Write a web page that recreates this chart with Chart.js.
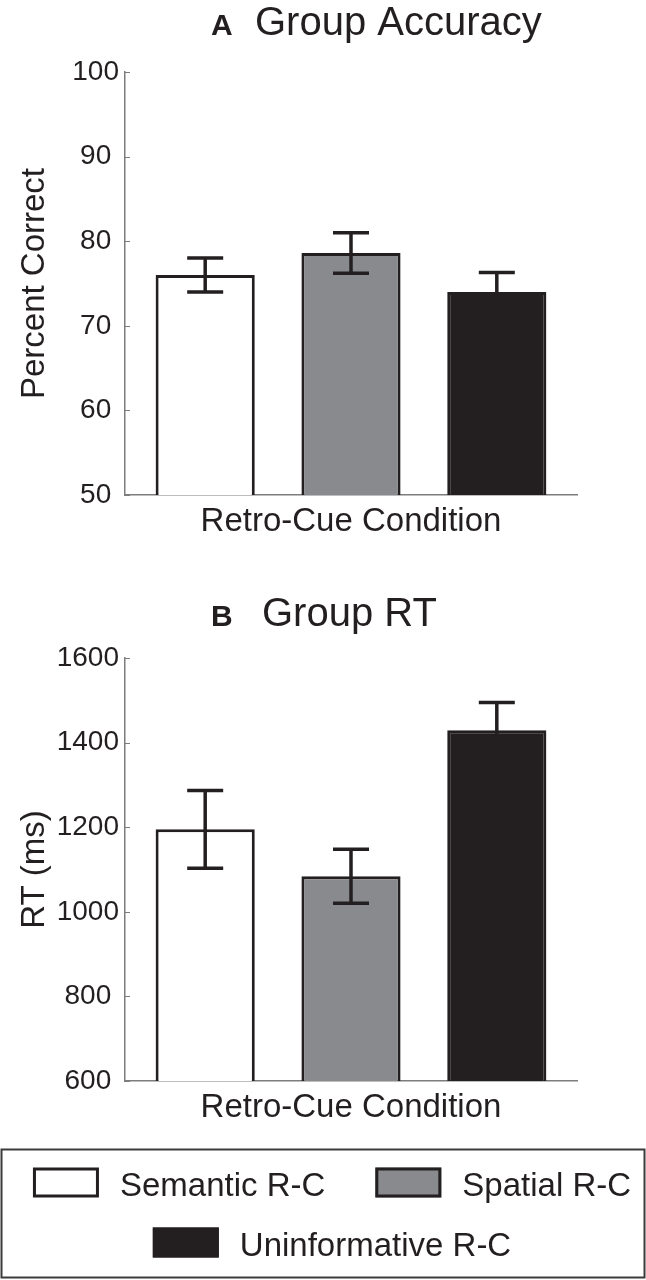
<!DOCTYPE html>
<html>
<head>
<meta charset="utf-8">
<script src="https://cdn.jsdelivr.net/npm/chart.js@4.4.1/dist/chart.umd.min.js"></script>
<style>
  body { margin: 0; background: #fff; }
  canvas { display: block; }
</style>
</head>
<body>
<canvas id="accChart" width="646" height="560"></canvas>
<canvas id="rtChart" width="646" height="720"></canvas>
<script>
// data
const categories = ["Semantic R-C", "Spatial R-C", "Uninformative R-C"];
const barColors = ["#ffffff", "#898a8d", "#231f20"];
const accuracy = [76.0, 78.6, 74.0];
const accuracyErr = [2.0, 2.4, 2.3];
const rt = [1195, 1084, 1429];
const rtErr = [92, 64, 66];
const accTicks = [50, 60, 70, 80, 90, 100];
const rtTicks = [600, 800, 1000, 1200, 1400, 1600];

const FONT = '"Liberation Sans", Arial, sans-serif';
const INK = "#231f20";
const AXIS = "#7d7d7d";

// "A  Group Accuracy" style heading
const panelTitle = {
    id: "panelTitle",
    afterDraw(chart, args, opts) {
        const ctx = chart.ctx;
        ctx.save();
        ctx.fillStyle = INK;
        ctx.textAlign = "left";
        ctx.textBaseline = "alphabetic";
        ctx.font = "bold 30px " + FONT;
        ctx.fillText(opts.letter, 211, opts.y);
        ctx.font = "40px " + FONT;
        ctx.fillText(opts.text, opts.textX, opts.y);
        ctx.restore();
    }
};

// short tick marks pointing into the plot
const innerTicks = {
    id: "innerTicks",
    afterDraw(chart) {
        const ctx = chart.ctx;
        const y = chart.scales.y;
        ctx.save();
        ctx.strokeStyle = AXIS;
        ctx.lineWidth = 1;
        ctx.beginPath();
        y.ticks.forEach(t => {
            const py = Math.round(y.getPixelForValue(t.value)) + 0.5;
            ctx.moveTo(y.right, py);
            ctx.lineTo(y.right + 5, py);
        });
        ctx.stroke();
        ctx.restore();
    }
};

const errorBars = {
    id: "errorBars",
    afterDatasetsDraw(chart, args, opts) {
        const ctx = chart.ctx;
        const y = chart.scales.y;
        const meta = chart.getDatasetMeta(0);
        const pts = chart.data.datasets[0].data;
        ctx.save();
        ctx.strokeStyle = INK;
        ctx.lineWidth = 3.5;
        meta.data.forEach((bar, i) => {
            const v = pts[i].y, e = opts.errors[i];
            const top = y.getPixelForValue(v + e);
            const bot = y.getPixelForValue(v - e);
            ctx.beginPath();
            ctx.moveTo(bar.x, top);
            ctx.lineTo(bar.x, bot);
            ctx.moveTo(bar.x - 18, top);
            ctx.lineTo(bar.x + 18, top);
            ctx.moveTo(bar.x - 18, bot);
            ctx.lineTo(bar.x + 18, bot);
            ctx.stroke();
        });
        ctx.restore();
    }
};

// boxed legend under panel B
const boxLegend = {
    id: "boxLegend",
    afterDraw(chart, args, opts) {
        const ctx = chart.ctx;
        ctx.save();
        ctx.strokeStyle = "#3b3b3b";
        ctx.lineWidth = 2;
        ctx.strokeRect(1.5, opts.top, chart.width - 3, 128);
        ctx.font = "33px " + FONT;
        ctx.textAlign = "left";
        ctx.textBaseline = "alphabetic";
        const rows = [[0, 1], [2]];
        rows.forEach((row, r) => {
            const widths = row.map(i => 66 + 21 + ctx.measureText(categories[i]).width);
            const total = widths.reduce((a, b) => a + b, 0) + 50 * (row.length - 1);
            let x = opts.centerX - total / 2;
            const sy = opts.top + 18 + r * 60;
            row.forEach((i, k) => {
                ctx.fillStyle = barColors[i];
                ctx.fillRect(x, sy, 66, 30);
                ctx.strokeStyle = INK;
                ctx.lineWidth = 3;
                ctx.strokeRect(x + 1.5, sy + 1.5, 63, 27);
                ctx.fillStyle = INK;
                ctx.fillText(categories[i], x + 87, sy + 28);
                x += widths[k] + 50;
            });
        });
        ctx.restore();
    }
};

function makeChart(id, values, errors, tickValues, yTitle, title, pad, extra) {
    return new Chart(id, {
        type: "bar",
        data: {
            datasets: [{
                data: values.map((v, i) => ({x: i + 1, y: v})),
                backgroundColor: barColors,
                borderColor: INK,
                borderWidth: 3,
                borderSkipped: false,
                categoryPercentage: 1,
                barPercentage: 0.68
            }]
        },
        options: {
            responsive: false,
            animation: false,
            layout: {padding: {top: pad.top, right: 69, bottom: pad.bottom, left: 0}},
            plugins: {
                legend: {display: false},
                tooltip: {enabled: false},
                panelTitle: title,
                errorBars: {errors: errors},
                boxLegend: {top: 589.5, centerX: 332}
            },
            scales: {
                x: {
                    type: "linear",
                    offset: false,
                    min: 0.45,
                    max: 3.55,
                    grid: {display: false, offset: false, drawTicks: false},
                    ticks: {display: false, stepSize: 1, includeBounds: false},
                    border: {color: AXIS, width: 1.5},
                    title: {
                        display: true,
                        text: "Retro-Cue Condition",
                        color: INK,
                        font: {family: FONT, size: 33},
                        padding: 0
                    },
                    afterFit: s => { s.height = 47; }
                },
                y: {
                    min: tickValues[0],
                    max: tickValues[tickValues.length - 1],
                    afterBuildTicks: s => { s.ticks = tickValues.map(v => ({value: v})); },
                    grid: {display: false, drawTicks: false},
                    border: {color: AXIS, width: 1.5},
                    ticks: {
                        color: INK,
                        font: {family: FONT, size: 28},
                        padding: 6,
                        crossAlign: "center",
                        callback: v => String(v)
                    },
                    title: {
                        display: true,
                        text: yTitle,
                        color: INK,
                        font: {family: FONT, size: 33},
                        padding: {top: 15, bottom: 0}
                    },
                    afterFit: s => { s.width = 125; }
                }
            }
        },
        plugins: [panelTitle, innerTicks, errorBars].concat(extra)
    });
}

makeChart("accChart", accuracy, accuracyErr, accTicks, "Percent Correct",
    {letter: "A", text: "Group Accuracy", textX: 255, y: 35},
    {top: 72, bottom: 18}, []);

makeChart("rtChart", rt, rtErr, rtTicks, "RT (ms)",
    {letter: "B", text: "Group RT", textX: 262, y: 66},
    {top: 98, bottom: 152}, [boxLegend]);
</script>
</body>
</html>
